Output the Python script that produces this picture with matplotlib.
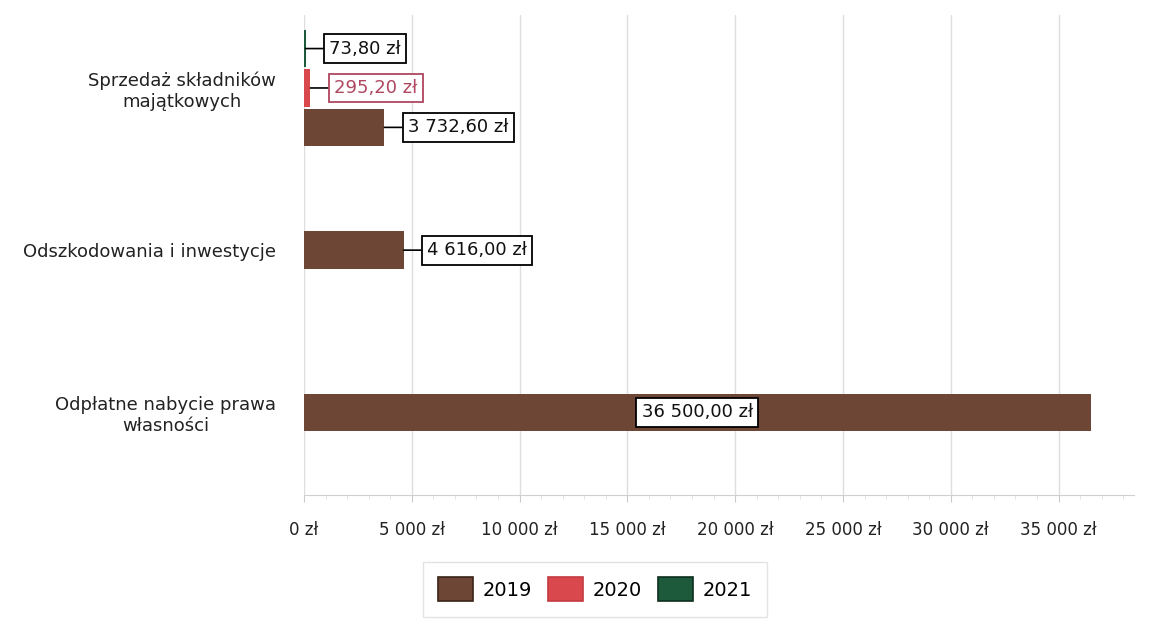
import matplotlib
matplotlib.use("Agg")
import matplotlib.pyplot as plt
from matplotlib.patches import Patch
from matplotlib.ticker import FuncFormatter, MultipleLocator

plt.rcParams['font.family'] = ['DejaVu Sans']

categories = ["Sprzedaż składników\nmajątkowych",
              "Odszkodowania i inwestycje",
              "Odpłatne nabycie prawa\nwłasności"]
series_names = ["2019", "2020", "2021"]
values_2019 = [3732.60, 4616.00, 36500.00]
values_2020 = [295.20, 0.0, 0.0]
values_2021 = [73.80, 0.0, 0.0]
xticks = [0, 5000, 10000, 15000, 20000, 25000, 30000, 35000]

series_values = [values_2019, values_2020, values_2021]
colors = ["#6d4636", "#d9484c", "#1c5a3b"]
edge_colors = ["#3a2218", "#c23a40", "#0e2e1e"]
label_colors = ["#111111", "#b04660", "#111111"]

def fmt_money(v):
    return f"{v:,.2f}".replace(",", " ").replace(".", ",") + " zł"

def fmt_tick(v, pos=None):
    return f"{int(v):,}".replace(",", " ") + " zł"

fig = plt.figure(figsize=(11.6, 6.2), dpi=100)
ax = fig.add_axes([304/1160, 1-495/620, (1134-304)/1160, (495-15)/620])

step = 0.243
height = 0.23
xmax = 38500

for ci, cat in enumerate(categories):
    present = [si for si in range(len(series_names)) if series_values[si][ci] > 0]
    k = len(present)
    for j, si in enumerate(present):
        v = series_values[si][ci]
        y = ci + ((k - 1) / 2 - j) * step
        ax.barh(y, v, height=height, color=colors[si], edgecolor='none', zorder=3)
        if v > xmax * 0.5:
            ax.text(v / 2, y, fmt_money(v), ha='center', va='center', fontsize=13,
                    color=label_colors[si], zorder=5,
                    bbox=dict(boxstyle='square,pad=0.3', fc='white', ec='black', lw=1.3))
        else:
            ax.annotate(fmt_money(v), xy=(v, y), xytext=(17, 0), textcoords='offset points',
                        ha='left', va='center', fontsize=13, color=label_colors[si], zorder=5,
                        bbox=dict(boxstyle='square,pad=0.3', fc='white',
                                  ec=label_colors[si] if si == 1 else 'black', lw=1.3),
                        arrowprops=dict(arrowstyle='-', color='black', lw=1.2,
                                        shrinkA=0, shrinkB=0))

ax.set_xlim(0, xmax)
ax.set_ylim(2.51, -0.45)
ax.set_xticks(xticks)
ax.xaxis.set_major_formatter(FuncFormatter(fmt_tick))
ax.xaxis.set_minor_locator(MultipleLocator(1000))
ax.set_yticks(range(len(categories)))
ax.set_yticklabels(categories, fontsize=13, color='#222222', multialignment='center')
ax.tick_params(axis='y', length=0, pad=20)
ax.tick_params(axis='x', which='major', length=5, color='#cccccc', labelsize=12,
               labelcolor='#222222', pad=14)
ax.tick_params(axis='x', which='minor', length=3, color='#dddddd')
ax.grid(axis='x', color='#dedede', lw=1, zorder=0)
for s in ['top', 'right', 'left']:
    ax.spines[s].set_visible(False)
ax.spines['bottom'].set_color('#d0d0d0')

handles = [Patch(facecolor=colors[i], edgecolor=edge_colors[i], lw=1.2) for i in range(3)]
leg = fig.legend(handles, series_names, loc='upper center', bbox_to_anchor=(595/1160, 1-552/620),
                 ncol=3, fontsize=14, frameon=True, fancybox=False, handlelength=1.8,
                 handleheight=1.5, handletextpad=0.5, columnspacing=0.8, borderpad=0.8)
leg.get_frame().set_edgecolor('#dddddd')
leg.get_frame().set_linewidth(1)

fig.savefig("out.png", dpi=100)
